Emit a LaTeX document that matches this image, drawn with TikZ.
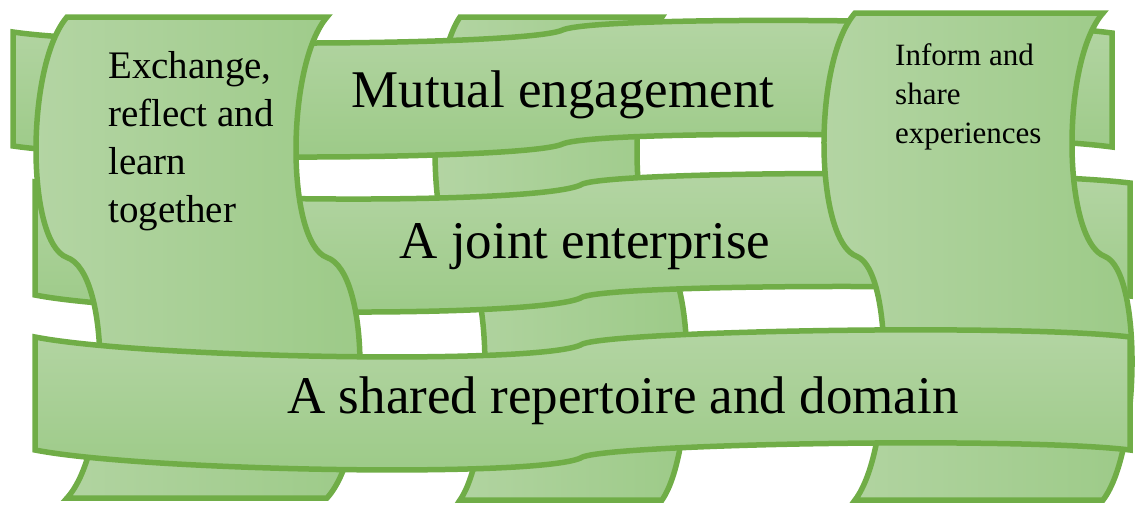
\documentclass[tikz,border=0pt]{standalone}
\usepackage{fontspec}
\setmainfont{Liberation Serif}
\usepackage{tikz}
\usepackage{xcolor}
\definecolor{bandline}{RGB}{112,173,71}
\definecolor{bandlight}{RGB}{180,213,164}
\definecolor{banddark}{RGB}{156,202,135}
\tikzset{
  strip/.style={draw=bandline, line width=5.5pt, line join=miter},
  weft/.style={strip, top color=bandlight, bottom color=banddark},
  warp/.style={strip, left color=bandlight, right color=banddark},
  bigtext/.style={font=\fontsize{53}{64}\selectfont, inner sep=0pt},
  sidetext/.style={font=\fontsize{39}{48}\selectfont, align=left, inner sep=0pt},
  cornertext/.style={font=\fontsize{31}{39}\selectfont, align=left, inner sep=0pt},
}

\newcommand\weftstrip[8]{%
  \pgfmathsetmacro\stripmid{(#1+#2)/2}%
  \pgfmathsetmacro\stripfar{(\stripmid-#1)/5}%
  \pgfmathsetmacro\stripnear{(\stripmid-#1)/16}%
  \pgfmathsetmacro\bulgea{4*#7/3}%
  \pgfmathsetmacro\bulgeb{4*#8/3}%
  \path[weft] (#1,#3)
    .. controls (#1+\stripfar,#3+\bulgea) and (\stripmid-\stripnear,#4+\bulgea) .. (\stripmid,#4)
    .. controls (\stripmid+\stripnear,#4-\bulgeb) and (#2-\stripfar,#5-\bulgeb) .. (#2,#5)
    -- (#2,#5+#6)
    .. controls (#2-\stripfar,#5+#6-\bulgeb) and (\stripmid+\stripnear,#4+#6-\bulgeb) .. (\stripmid,#4+#6)
    .. controls (\stripmid-\stripnear,#4+#6+\bulgea) and (#1+\stripfar,#3+#6+\bulgea) .. (#1,#3+#6)
    -- cycle;}

\newcommand\warpstrip[8]{%
  \pgfmathsetmacro\stripmid{(#1+#2)/2}%
  \pgfmathsetmacro\stripfar{(\stripmid-#1)/5}%
  \pgfmathsetmacro\stripnear{(\stripmid-#1)/16}%
  \pgfmathsetmacro\bulgea{4*#7/3}%
  \pgfmathsetmacro\bulgeb{4*#8/3}%
  \path[warp] (#3,#1)
    .. controls (#3-\bulgea,#1+\stripfar) and (#4-\bulgea,\stripmid-\stripnear) .. (#4,\stripmid)
    .. controls (#4+\bulgeb,\stripmid+\stripnear) and (#5+\bulgeb,#2-\stripfar) .. (#5,#2)
    -- (#5+#6,#2)
    .. controls (#5+#6+\bulgeb,#2-\stripfar) and (#4+#6+\bulgeb,\stripmid+\stripnear) .. (#4+#6,\stripmid)
    .. controls (#4+#6-\bulgea,\stripmid-\stripnear) and (#3+#6-\bulgea,#1+\stripfar) .. (#3+#6,#1)
    -- cycle;}

\begin{document}
\begin{tikzpicture}[x=1pt, y=-1pt]

\useasboundingbox (0,0) rectangle (1137,504);

\warpstrip{17}{500}{460}{460}{460}{202}{25}{25}
\weftstrip{13}{1112}{32}{30}{33}{114}{12}{11}
\weftstrip{35}{1130}{182}{184}{183}{113}{16}{10}
\warpstrip{17}{498}{67}{67}{67}{260}{31}{33}
\warpstrip{13}{500}{855}{857}{855}{248}{32}{28}
\weftstrip{35}{1130}{337}{344}{337}{113}{16}{10}

\node[bigtext, anchor=base] (mutual) at (563,107) {Mutual engagement};
\node[bigtext, anchor=base] (joint) at (585,258) {A joint enterprise};
\node[bigtext, anchor=base] (shared) at (623,413) {A shared repertoire and domain};

\node[sidetext, anchor=base west] (exchange) at (108,222) {Exchange,\\reflect and\\learn\\together};
\node[cornertext, anchor=base west] (inform) at (895,143) {Inform and\\share\\experiences};

\end{tikzpicture}
\end{document}
